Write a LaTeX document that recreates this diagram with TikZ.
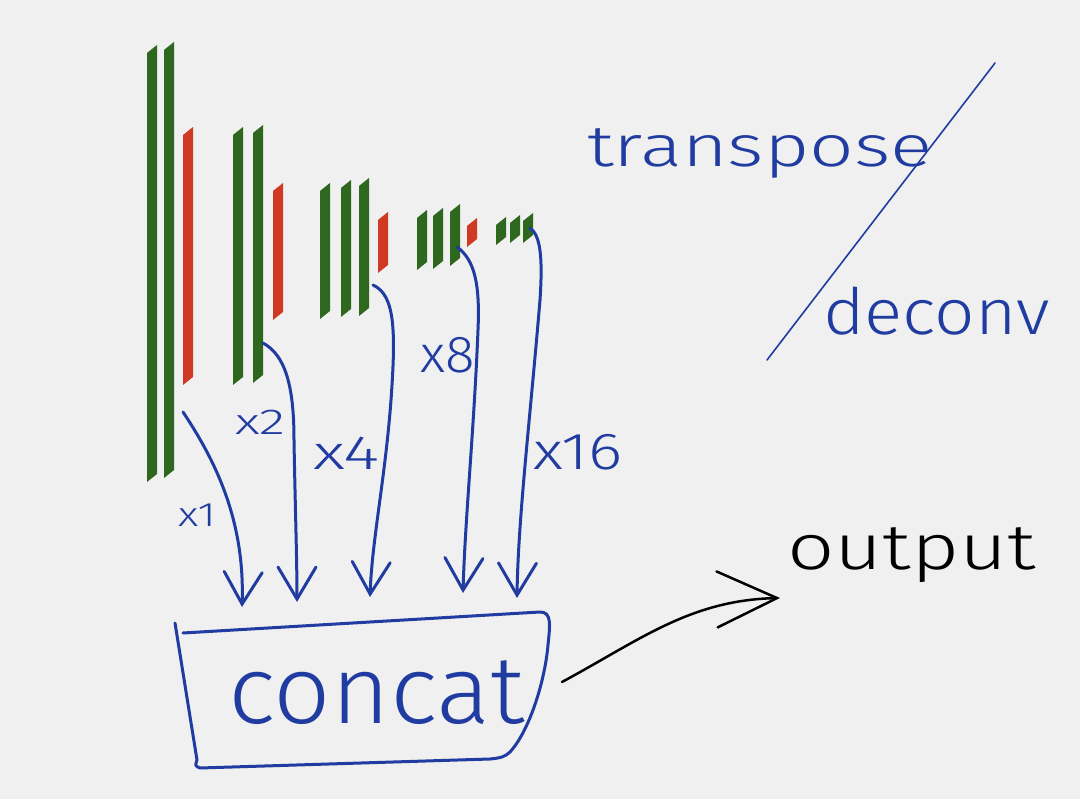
\documentclass[tikz,border=0pt]{standalone}
\usepackage{fontspec}
\setmainfont{Fira Sans Light}
\usetikzlibrary{arrows.meta}
\definecolor{bg}{RGB}{240,240,240}
\definecolor{bargreen}{RGB}{46,104,30}
\definecolor{barred}{RGB}{208,58,36}
\definecolor{pen}{RGB}{32,60,160}
\newcommand{\pbar}[4]{\fill[#1] (#2,#3+8) -- (#2+10,#3) -- (#2+10,#4-8) -- (#2,#4) -- cycle;}
\tikzset{
  txt/.style={inner sep=0pt, outer sep=0pt, anchor=base west},
  stroke/.style={draw=pen, line width=3pt, line cap=round, line join=round},
  arr/.style={stroke, -{Straight Barb[length=32pt, width=38pt, line cap=round]}},
}
\begin{document}
\begin{tikzpicture}[x=1pt,y=-1pt]
\fill[bg] (0,0) rectangle (1080,799);
\useasboundingbox (0,0) rectangle (1080,799);
% group 1
\pbar{bargreen}{147}{45}{482}
\pbar{bargreen}{164}{42}{478}
\pbar{barred}{183}{127}{385}
% group 2
\pbar{bargreen}{233}{127}{385}
\pbar{bargreen}{253}{125}{383}
\pbar{barred}{273}{183}{320}
% group 3
\pbar{bargreen}{320}{183}{319}
\pbar{bargreen}{341}{180}{317}
\pbar{bargreen}{359}{178}{316}
\pbar{barred}{378}{212}{273}
% group 4
\pbar{bargreen}{417}{210}{270}
\pbar{bargreen}{433}{208}{269}
\pbar{bargreen}{450}{204}{266}
\pbar{barred}{467}{218}{247}
% group 5
\pbar{bargreen}{496}{217}{245}
\pbar{bargreen}{510}{215}{243}
\pbar{bargreen}{523}{213}{243}

% connector ends
\coordinate (s1) at (183,412);
\coordinate (s2) at (263,343);
\coordinate (s3) at (373,285);
\coordinate (s4) at (457,247);
\coordinate (s5) at (530,228);
\coordinate (e1) at (242,607);
\coordinate (e2) at (297,602);
\coordinate (e3) at (370,597);
\coordinate (e4) at (463,593);
\coordinate (e5) at (517,598);

\draw[arr] (s1) .. controls (215,460) and (245,520) .. (e1);
\draw[arr] (s2) .. controls (285,355) and (294,385) .. (294,440) .. controls (295,500) and (297,560) .. (e2);
\draw[arr] (s3) .. controls (395,295) and (396,330) .. (391,400) .. controls (385,480) and (372,540) .. (e3);
\draw[arr] (s4) .. controls (475,260) and (480,285) .. (478,330) .. controls (474,430) and (465,520) .. (e4);
\draw[arr] (s5) .. controls (540,235) and (543,255) .. (540,300) .. controls (530,420) and (518,520) .. (e5);

% labels
\node[txt, text=pen] (l1) at (178,527) {\scalebox{1.3}[1]{\fontsize{34}{36}\selectfont x1}};
\node[txt, text=pen] (l2) at (235,435) {\scalebox{1.5}[1]{\fontsize{36}{38}\selectfont x2}};
\node[txt, text=pen] (l4) at (313,470) {\scalebox{1.45}[1]{\fontsize{48}{50}\selectfont x4}};
\node[txt, text=pen] (l8) at (420,373) {\scalebox{1.05}[1]{\fontsize{52}{54}\selectfont x8}};
\node[txt, text=pen] (l16) at (533,470) {\scalebox{1.25}[1]{\fontsize{52}{54}\selectfont x16}};

% concat box
\draw[stroke] (183,633) -- (540,612) .. controls (552,612) and (550,625) .. (548,645)
  .. controls (545,680) and (530,730) .. (510,752) .. controls (505,757) and (500,758) .. (490,759)
  -- (200,768) .. controls (195,766) .. (197,760) -- (175,623);
\node[txt, text=pen] (concat) at (228,723) {\scalebox{1.05}[1]{\fontsize{96}{100}\selectfont concat}};

% transpose / deconv
\node[txt, text=pen] (transpose) at (587,167) {\scalebox{1.35}[1]{\fontsize{58}{60}\selectfont transpose}};
\node[txt, text=pen] (deconv) at (823,335) {\scalebox{1.11}[1]{\fontsize{64}{66}\selectfont deconv}};
\coordinate (slashA) at (995,63);
\coordinate (slashB) at (767,360);
\draw[draw=pen, line width=1.6pt, line cap=round] (slashA) -- (slashB);

% output
\node[txt, text=black] (output) at (787,570) {\scalebox{1.3}[1]{\fontsize{64}{66}\selectfont output}};
\coordinate (cE) at (562,682);
\coordinate (oT) at (780,598);
\draw[black, line width=2.5pt, line cap=round, -{Straight Barb[length=60pt, width=56pt, line cap=round]}]
  (cE) .. controls (640,640) and (690,600) .. (oT);
\end{tikzpicture}
\end{document}
